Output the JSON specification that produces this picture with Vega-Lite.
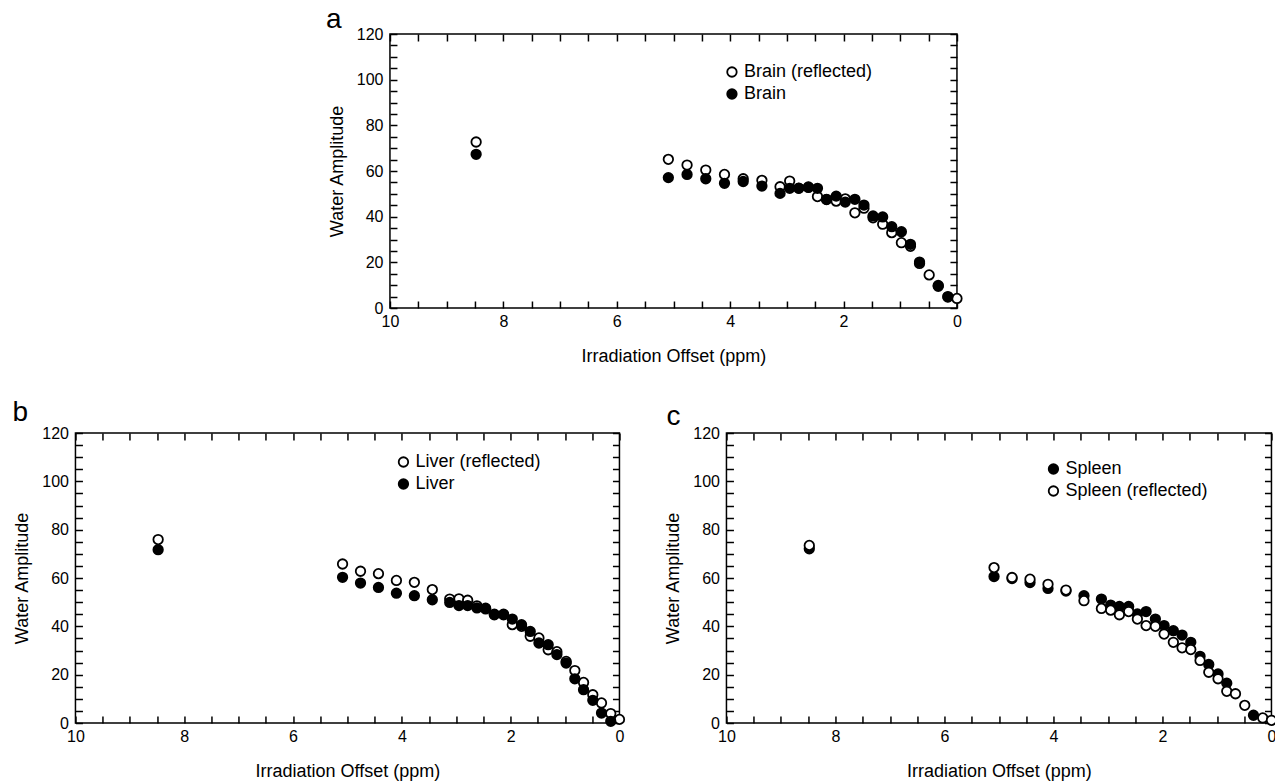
{
  "$schema": "https://vega.github.io/schema/vega-lite/v6.json",
  "padding": {"left": 11, "top": 5, "right": 0, "bottom": 0},
  "background": "white",
  "spacing": 32,
  "center": true,
  "resolve": {"scale": {"fill": "independent"}, "legend": {"fill": "independent"}},
  "datasets": {
    "brain": [
      {"offset": 8.48, "amplitude": 72.7, "series": "Brain (reflected)"},
      {"offset": 5.09, "amplitude": 65.1, "series": "Brain (reflected)"},
      {"offset": 4.76, "amplitude": 62.6, "series": "Brain (reflected)"},
      {"offset": 4.43, "amplitude": 60.4, "series": "Brain (reflected)"},
      {"offset": 4.10, "amplitude": 58.5, "series": "Brain (reflected)"},
      {"offset": 3.77, "amplitude": 56.6, "series": "Brain (reflected)"},
      {"offset": 3.44, "amplitude": 55.9, "series": "Brain (reflected)"},
      {"offset": 3.12, "amplitude": 53.1, "series": "Brain (reflected)"},
      {"offset": 2.95, "amplitude": 55.6, "series": "Brain (reflected)"},
      {"offset": 2.79, "amplitude": 52.5, "series": "Brain (reflected)"},
      {"offset": 2.62, "amplitude": 52.8, "series": "Brain (reflected)"},
      {"offset": 2.46, "amplitude": 48.8, "series": "Brain (reflected)"},
      {"offset": 2.30, "amplitude": 47.5, "series": "Brain (reflected)"},
      {"offset": 2.13, "amplitude": 46.8, "series": "Brain (reflected)"},
      {"offset": 1.97, "amplitude": 47.8, "series": "Brain (reflected)"},
      {"offset": 1.80, "amplitude": 41.7, "series": "Brain (reflected)"},
      {"offset": 1.64, "amplitude": 43.7, "series": "Brain (reflected)"},
      {"offset": 1.48, "amplitude": 39.5, "series": "Brain (reflected)"},
      {"offset": 1.31, "amplitude": 36.7, "series": "Brain (reflected)"},
      {"offset": 1.15, "amplitude": 33.0, "series": "Brain (reflected)"},
      {"offset": 0.98, "amplitude": 28.6, "series": "Brain (reflected)"},
      {"offset": 0.82, "amplitude": 27.0, "series": "Brain (reflected)"},
      {"offset": 0.66, "amplitude": 19.5, "series": "Brain (reflected)"},
      {"offset": 0.49, "amplitude": 14.5, "series": "Brain (reflected)"},
      {"offset": 0.33, "amplitude": 9.5, "series": "Brain (reflected)"},
      {"offset": 0.16, "amplitude": 4.8, "series": "Brain (reflected)"},
      {"offset": 0.00, "amplitude": 4.2, "series": "Brain (reflected)"},
      {"offset": 8.48, "amplitude": 67.3, "series": "Brain"},
      {"offset": 5.09, "amplitude": 57.1, "series": "Brain"},
      {"offset": 4.76, "amplitude": 58.5, "series": "Brain"},
      {"offset": 4.43, "amplitude": 56.6, "series": "Brain"},
      {"offset": 4.10, "amplitude": 54.6, "series": "Brain"},
      {"offset": 3.77, "amplitude": 55.4, "series": "Brain"},
      {"offset": 3.44, "amplitude": 53.4, "series": "Brain"},
      {"offset": 3.12, "amplitude": 50.2, "series": "Brain"},
      {"offset": 2.95, "amplitude": 52.4, "series": "Brain"},
      {"offset": 2.79, "amplitude": 52.4, "series": "Brain"},
      {"offset": 2.62, "amplitude": 53.0, "series": "Brain"},
      {"offset": 2.46, "amplitude": 52.4, "series": "Brain"},
      {"offset": 2.30, "amplitude": 47.6, "series": "Brain"},
      {"offset": 2.13, "amplitude": 49.0, "series": "Brain"},
      {"offset": 1.97, "amplitude": 46.4, "series": "Brain"},
      {"offset": 1.80, "amplitude": 47.6, "series": "Brain"},
      {"offset": 1.64, "amplitude": 45.1, "series": "Brain"},
      {"offset": 1.48, "amplitude": 40.3, "series": "Brain"},
      {"offset": 1.31, "amplitude": 39.9, "series": "Brain"},
      {"offset": 1.15, "amplitude": 35.6, "series": "Brain"},
      {"offset": 0.98, "amplitude": 33.4, "series": "Brain"},
      {"offset": 0.82, "amplitude": 27.9, "series": "Brain"},
      {"offset": 0.66, "amplitude": 20.1, "series": "Brain"},
      {"offset": 0.33, "amplitude": 9.9, "series": "Brain"},
      {"offset": 0.16, "amplitude": 5.0, "series": "Brain"}
    ],
    "liver": [
      {"offset": 8.48, "amplitude": 75.9, "series": "Liver (reflected)"},
      {"offset": 5.09, "amplitude": 65.8, "series": "Liver (reflected)"},
      {"offset": 4.76, "amplitude": 62.8, "series": "Liver (reflected)"},
      {"offset": 4.43, "amplitude": 61.8, "series": "Liver (reflected)"},
      {"offset": 4.10, "amplitude": 59.0, "series": "Liver (reflected)"},
      {"offset": 3.77, "amplitude": 58.2, "series": "Liver (reflected)"},
      {"offset": 3.44, "amplitude": 55.2, "series": "Liver (reflected)"},
      {"offset": 3.12, "amplitude": 51.3, "series": "Liver (reflected)"},
      {"offset": 2.95, "amplitude": 51.4, "series": "Liver (reflected)"},
      {"offset": 2.79, "amplitude": 50.8, "series": "Liver (reflected)"},
      {"offset": 2.62, "amplitude": 48.5, "series": "Liver (reflected)"},
      {"offset": 2.46, "amplitude": 47.5, "series": "Liver (reflected)"},
      {"offset": 2.30, "amplitude": 45.0, "series": "Liver (reflected)"},
      {"offset": 2.13, "amplitude": 45.0, "series": "Liver (reflected)"},
      {"offset": 1.97, "amplitude": 40.7, "series": "Liver (reflected)"},
      {"offset": 1.80, "amplitude": 40.0, "series": "Liver (reflected)"},
      {"offset": 1.64, "amplitude": 35.9, "series": "Liver (reflected)"},
      {"offset": 1.48, "amplitude": 35.2, "series": "Liver (reflected)"},
      {"offset": 1.31, "amplitude": 30.3, "series": "Liver (reflected)"},
      {"offset": 1.15, "amplitude": 29.5, "series": "Liver (reflected)"},
      {"offset": 0.98, "amplitude": 25.5, "series": "Liver (reflected)"},
      {"offset": 0.82, "amplitude": 21.7, "series": "Liver (reflected)"},
      {"offset": 0.66, "amplitude": 16.8, "series": "Liver (reflected)"},
      {"offset": 0.49, "amplitude": 11.7, "series": "Liver (reflected)"},
      {"offset": 0.33, "amplitude": 8.3, "series": "Liver (reflected)"},
      {"offset": 0.16, "amplitude": 3.9, "series": "Liver (reflected)"},
      {"offset": 0.00, "amplitude": 1.5, "series": "Liver (reflected)"},
      {"offset": 8.48, "amplitude": 71.7, "series": "Liver"},
      {"offset": 5.09, "amplitude": 60.3, "series": "Liver"},
      {"offset": 4.76, "amplitude": 57.9, "series": "Liver"},
      {"offset": 4.43, "amplitude": 56.1, "series": "Liver"},
      {"offset": 4.10, "amplitude": 53.7, "series": "Liver"},
      {"offset": 3.77, "amplitude": 52.7, "series": "Liver"},
      {"offset": 3.44, "amplitude": 51.0, "series": "Liver"},
      {"offset": 3.12, "amplitude": 49.9, "series": "Liver"},
      {"offset": 2.95, "amplitude": 48.6, "series": "Liver"},
      {"offset": 2.79, "amplitude": 48.6, "series": "Liver"},
      {"offset": 2.62, "amplitude": 47.6, "series": "Liver"},
      {"offset": 2.46, "amplitude": 47.2, "series": "Liver"},
      {"offset": 2.30, "amplitude": 44.8, "series": "Liver"},
      {"offset": 2.13, "amplitude": 44.8, "series": "Liver"},
      {"offset": 1.97, "amplitude": 43.0, "series": "Liver"},
      {"offset": 1.80, "amplitude": 40.7, "series": "Liver"},
      {"offset": 1.64, "amplitude": 37.9, "series": "Liver"},
      {"offset": 1.48, "amplitude": 33.1, "series": "Liver"},
      {"offset": 1.31, "amplitude": 32.4, "series": "Liver"},
      {"offset": 1.15, "amplitude": 28.3, "series": "Liver"},
      {"offset": 0.98, "amplitude": 24.8, "series": "Liver"},
      {"offset": 0.82, "amplitude": 18.3, "series": "Liver"},
      {"offset": 0.66, "amplitude": 13.8, "series": "Liver"},
      {"offset": 0.49, "amplitude": 9.4, "series": "Liver"},
      {"offset": 0.33, "amplitude": 4.1, "series": "Liver"},
      {"offset": 0.16, "amplitude": 0.7, "series": "Liver"}
    ],
    "spleen": [
      {"offset": 8.48, "amplitude": 72.1, "series": "Spleen"},
      {"offset": 5.09, "amplitude": 60.6, "series": "Spleen"},
      {"offset": 4.76, "amplitude": 59.8, "series": "Spleen"},
      {"offset": 4.43, "amplitude": 58.1, "series": "Spleen"},
      {"offset": 4.10, "amplitude": 55.7, "series": "Spleen"},
      {"offset": 3.77, "amplitude": 54.6, "series": "Spleen"},
      {"offset": 3.44, "amplitude": 52.7, "series": "Spleen"},
      {"offset": 3.12, "amplitude": 51.3, "series": "Spleen"},
      {"offset": 2.95, "amplitude": 48.8, "series": "Spleen"},
      {"offset": 2.79, "amplitude": 48.2, "series": "Spleen"},
      {"offset": 2.62, "amplitude": 48.2, "series": "Spleen"},
      {"offset": 2.46, "amplitude": 45.1, "series": "Spleen"},
      {"offset": 2.30, "amplitude": 46.1, "series": "Spleen"},
      {"offset": 2.13, "amplitude": 43.0, "series": "Spleen"},
      {"offset": 1.97, "amplitude": 40.3, "series": "Spleen"},
      {"offset": 1.80, "amplitude": 38.2, "series": "Spleen"},
      {"offset": 1.64, "amplitude": 36.4, "series": "Spleen"},
      {"offset": 1.48, "amplitude": 33.4, "series": "Spleen"},
      {"offset": 1.31, "amplitude": 27.6, "series": "Spleen"},
      {"offset": 1.15, "amplitude": 24.2, "series": "Spleen"},
      {"offset": 0.98, "amplitude": 20.3, "series": "Spleen"},
      {"offset": 0.82, "amplitude": 16.5, "series": "Spleen"},
      {"offset": 0.33, "amplitude": 3.2, "series": "Spleen"},
      {"offset": 8.48, "amplitude": 73.5, "series": "Spleen (reflected)"},
      {"offset": 5.09, "amplitude": 64.3, "series": "Spleen (reflected)"},
      {"offset": 4.76, "amplitude": 60.2, "series": "Spleen (reflected)"},
      {"offset": 4.43, "amplitude": 59.5, "series": "Spleen (reflected)"},
      {"offset": 4.10, "amplitude": 57.4, "series": "Spleen (reflected)"},
      {"offset": 3.77, "amplitude": 55.0, "series": "Spleen (reflected)"},
      {"offset": 3.44, "amplitude": 50.6, "series": "Spleen (reflected)"},
      {"offset": 3.12, "amplitude": 47.4, "series": "Spleen (reflected)"},
      {"offset": 2.95, "amplitude": 46.7, "series": "Spleen (reflected)"},
      {"offset": 2.79, "amplitude": 44.8, "series": "Spleen (reflected)"},
      {"offset": 2.62, "amplitude": 46.1, "series": "Spleen (reflected)"},
      {"offset": 2.46, "amplitude": 43.0, "series": "Spleen (reflected)"},
      {"offset": 2.30, "amplitude": 40.3, "series": "Spleen (reflected)"},
      {"offset": 2.13, "amplitude": 40.0, "series": "Spleen (reflected)"},
      {"offset": 1.97, "amplitude": 36.8, "series": "Spleen (reflected)"},
      {"offset": 1.80, "amplitude": 33.4, "series": "Spleen (reflected)"},
      {"offset": 1.64, "amplitude": 31.1, "series": "Spleen (reflected)"},
      {"offset": 1.48, "amplitude": 30.4, "series": "Spleen (reflected)"},
      {"offset": 1.31, "amplitude": 25.9, "series": "Spleen (reflected)"},
      {"offset": 1.15, "amplitude": 21.0, "series": "Spleen (reflected)"},
      {"offset": 0.98, "amplitude": 18.3, "series": "Spleen (reflected)"},
      {"offset": 0.82, "amplitude": 13.1, "series": "Spleen (reflected)"},
      {"offset": 0.66, "amplitude": 12.1, "series": "Spleen (reflected)"},
      {"offset": 0.49, "amplitude": 7.3, "series": "Spleen (reflected)"},
      {"offset": 0.16, "amplitude": 2.1, "series": "Spleen (reflected)"},
      {"offset": 0.00, "amplitude": 1.1, "series": "Spleen (reflected)"}
    ]
  },
  "vconcat": [
    {
      "width": 567,
      "height": 274,
      "title": {"text": "a", "anchor": "start", "frame": "group", "dx": -64, "offset": -8, "fontSize": 28, "font": "Liberation Sans", "fontWeight": "normal", "color": "black"},
      "data": {"name": "brain"},
      "layer": [
        {
          "mark": {"type": "point", "shape": "circle", "filled": true, "size": 90, "stroke": "black", "strokeWidth": 1.8, "opacity": 1},
          "encoding": {
            "x": {"field": "offset", "type": "quantitative", "scale": {"domain": [0, 10], "reverse": true, "nice": false, "zero": false},
              "axis": {"orient": "bottom", "title": "Irradiation Offset (ppm)", "values": [0,0.5,1,1.5,2,2.5,3,3.5,4,4.5,5,5.5,6,6.5,7,7.5,8,8.5,9,9.5,10], "labelExpr": "datum.value % 2 === 0 ? format(datum.value, 'd') : ''", "tickSize": -7, "labelPadding": 12, "titlePadding": 18}},
            "y": {"field": "amplitude", "type": "quantitative", "scale": {"domain": [0, 120], "nice": false},
              "axis": {"orient": "left", "title": "Water Amplitude", "values": [0,5,10,15,20,25,30,35,40,45,50,55,60,65,70,75,80,85,90,95,100,105,110,115,120], "labelExpr": "datum.value % 20 === 0 ? format(datum.value, 'd') : ''", "tickSize": -7, "labelPadding": 14, "titlePadding": 10}},
            "fill": {"field": "series", "type": "nominal", "scale": {"domain": ["Brain (reflected)", "Brain"], "range": ["white", "black"]},
              "legend": {"orient": "none", "legendX": 333, "legendY": 29}}
          }
        },
        {
          "mark": {"type": "point", "opacity": 0},
          "encoding": {
            "x": {"field": "offset", "type": "quantitative", "axis": {"orient": "top", "title": null, "labels": false, "values": [0,0.5,1,1.5,2,2.5,3,3.5,4,4.5,5,5.5,6,6.5,7,7.5,8,8.5,9,9.5,10], "tickSize": -7}},
            "y": {"field": "amplitude", "type": "quantitative", "axis": {"orient": "right", "title": null, "labels": false, "values": [0,5,10,15,20,25,30,35,40,45,50,55,60,65,70,75,80,85,90,95,100,105,110,115,120], "tickSize": -7}}
          }
        }
      ],
      "resolve": {"axis": {"x": "independent", "y": "independent"}}
    },
    {
      "spacing": 34,
      "resolve": {"scale": {"fill": "independent"}, "legend": {"fill": "independent"}},
      "hconcat": [
        {
          "width": 544,
          "height": 290,
          "title": {"text": "b", "anchor": "start", "frame": "group", "dx": -63, "offset": -2, "fontSize": 28, "font": "Liberation Sans", "fontWeight": "normal", "color": "black"},
          "data": {"name": "liver"},
          "layer": [
            {
              "mark": {"type": "point", "shape": "circle", "filled": true, "size": 90, "stroke": "black", "strokeWidth": 1.8, "opacity": 1},
              "encoding": {
                "x": {"field": "offset", "type": "quantitative", "scale": {"domain": [0, 10], "reverse": true, "nice": false, "zero": false},
                  "axis": {"orient": "bottom", "title": "Irradiation Offset (ppm)", "values": [0,0.5,1,1.5,2,2.5,3,3.5,4,4.5,5,5.5,6,6.5,7,7.5,8,8.5,9,9.5,10], "labelExpr": "datum.value % 2 === 0 ? format(datum.value, 'd') : ''", "tickSize": -7, "labelPadding": 12, "titlePadding": 18}},
                "y": {"field": "amplitude", "type": "quantitative", "scale": {"domain": [0, 120], "nice": false},
                  "axis": {"orient": "left", "title": "Water Amplitude", "values": [0,5,10,15,20,25,30,35,40,45,50,55,60,65,70,75,80,85,90,95,100,105,110,115,120], "labelExpr": "datum.value % 20 === 0 ? format(datum.value, 'd') : ''", "tickSize": -7, "labelPadding": 14, "titlePadding": 10}},
                "fill": {"field": "series", "type": "nominal", "scale": {"domain": ["Liver (reflected)", "Liver"], "range": ["white", "black"]},
                  "legend": {"orient": "none", "legendX": 319, "legendY": 20}}
              }
            },
            {
              "mark": {"type": "point", "opacity": 0},
              "encoding": {
                "x": {"field": "offset", "type": "quantitative", "axis": {"orient": "top", "title": null, "labels": false, "values": [0,0.5,1,1.5,2,2.5,3,3.5,4,4.5,5,5.5,6,6.5,7,7.5,8,8.5,9,9.5,10], "tickSize": -7}},
                "y": {"field": "amplitude", "type": "quantitative", "axis": {"orient": "right", "title": null, "labels": false, "values": [0,5,10,15,20,25,30,35,40,45,50,55,60,65,70,75,80,85,90,95,100,105,110,115,120], "tickSize": -7}}
              }
            }
          ],
          "resolve": {"axis": {"x": "independent", "y": "independent"}}
        },
        {
          "width": 545,
          "height": 290,
          "title": {"text": "c", "anchor": "start", "frame": "group", "dx": -60, "offset": -6, "fontSize": 28, "font": "Liberation Sans", "fontWeight": "normal", "color": "black"},
          "data": {"name": "spleen"},
          "layer": [
            {
              "mark": {"type": "point", "shape": "circle", "filled": true, "size": 90, "stroke": "black", "strokeWidth": 1.8, "opacity": 1},
              "encoding": {
                "x": {"field": "offset", "type": "quantitative", "scale": {"domain": [0, 10], "reverse": true, "nice": false, "zero": false},
                  "axis": {"orient": "bottom", "title": "Irradiation Offset (ppm)", "values": [0,0.5,1,1.5,2,2.5,3,3.5,4,4.5,5,5.5,6,6.5,7,7.5,8,8.5,9,9.5,10], "labelExpr": "datum.value % 2 === 0 ? format(datum.value, 'd') : ''", "tickSize": -7, "labelPadding": 12, "titlePadding": 18}},
                "y": {"field": "amplitude", "type": "quantitative", "scale": {"domain": [0, 120], "nice": false},
                  "axis": {"orient": "left", "title": "Water Amplitude", "values": [0,5,10,15,20,25,30,35,40,45,50,55,60,65,70,75,80,85,90,95,100,105,110,115,120], "labelExpr": "datum.value % 20 === 0 ? format(datum.value, 'd') : ''", "tickSize": -7, "labelPadding": 14, "titlePadding": 10}},
                "fill": {"field": "series", "type": "nominal", "scale": {"domain": ["Spleen", "Spleen (reflected)"], "range": ["black", "white"]},
                  "legend": {"orient": "none", "legendX": 318, "legendY": 27}}
              }
            },
            {
              "mark": {"type": "point", "opacity": 0},
              "encoding": {
                "x": {"field": "offset", "type": "quantitative", "axis": {"orient": "top", "title": null, "labels": false, "values": [0,0.5,1,1.5,2,2.5,3,3.5,4,4.5,5,5.5,6,6.5,7,7.5,8,8.5,9,9.5,10], "tickSize": -7}},
                "y": {"field": "amplitude", "type": "quantitative", "axis": {"orient": "right", "title": null, "labels": false, "values": [0,5,10,15,20,25,30,35,40,45,50,55,60,65,70,75,80,85,90,95,100,105,110,115,120], "tickSize": -7}}
              }
            }
          ],
          "resolve": {"axis": {"x": "independent", "y": "independent"}}
        }
      ]
    }
  ],
  "config": {
    "view": {"stroke": "black", "strokeWidth": 1.5},
    "axis": {"grid": false, "domain": false, "minExtent": 0, "tickColor": "black", "tickWidth": 1.5, "labelFont": "Liberation Sans", "labelFontSize": 16, "labelColor": "black", "labelOverlap": false, "labelFlush": false, "labelBound": false, "titleFont": "Liberation Sans", "titleFontSize": 18, "titleFontWeight": "normal", "titleColor": "black"},
    "legend": {"title": null, "padding": 0, "symbolType": "circle", "symbolSize": 90, "symbolStrokeColor": "black", "symbolStrokeWidth": 1.8, "symbolOpacity": 1, "labelFont": "Liberation Sans", "labelFontSize": 18, "labelColor": "black", "labelOffset": 3, "rowPadding": 4}
  }
}
